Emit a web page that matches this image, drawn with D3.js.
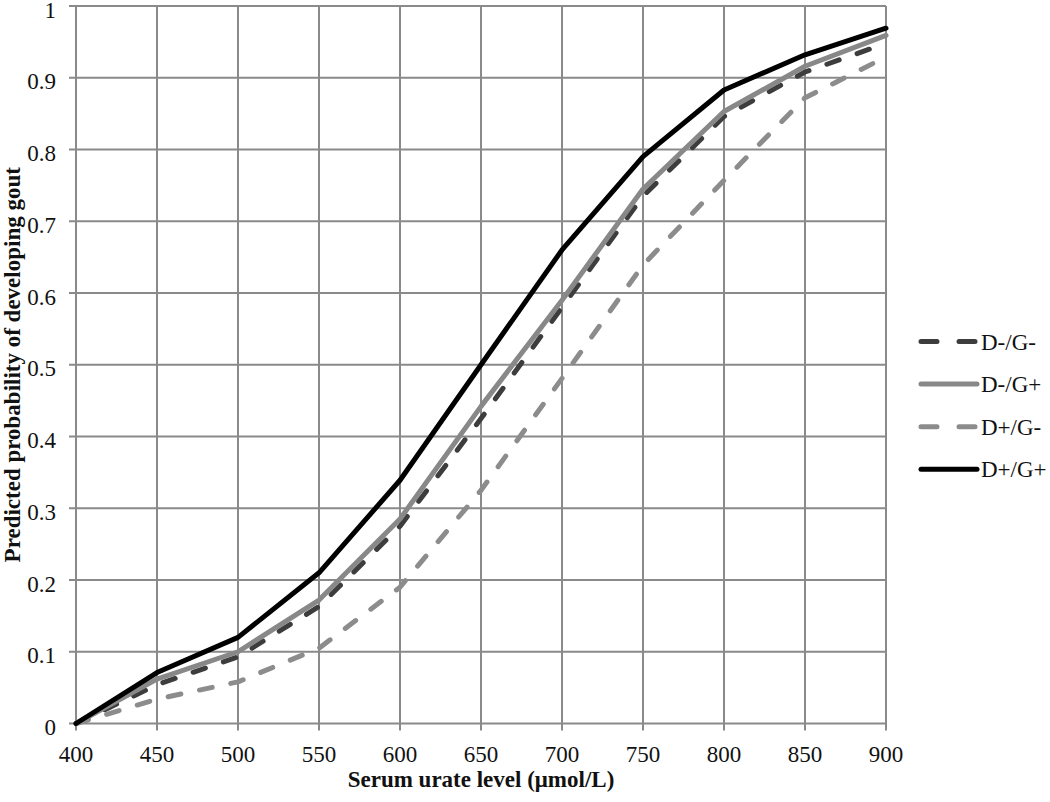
<!DOCTYPE html>
<html>
<head>
<meta charset="utf-8">
<script src="https://cdn.jsdelivr.net/npm/d3@7/dist/d3.min.js"></script>
<style>
    body { margin: 0; background: #fff; }
    svg { display: block; }
</style>
</head>
<body>
<svg id="chart" width="1050" height="802"></svg>
<script>
// serum urate level (umol/L)
const urate = [400, 450, 500, 550, 600, 650, 700, 750, 800, 850, 900];

// predicted probability per group
const dNegGNeg = [0, 0.054, 0.093, 0.163, 0.275, 0.425, 0.58, 0.735, 0.846, 0.908, 0.948];
const dNegGPos = [0, 0.062, 0.10, 0.172, 0.285, 0.442, 0.59, 0.745, 0.853, 0.916, 0.959];
const dPosGNeg = [0, 0.034, 0.058, 0.105, 0.19, 0.325, 0.481, 0.639, 0.757, 0.872, 0.929];
const dPosGPos = [0, 0.071, 0.12, 0.21, 0.339, 0.50, 0.66, 0.79, 0.883, 0.932, 0.969];

const seriesNames = ["D-/G-", "D-/G+", "D+/G-", "D+/G+"];
const xTicks = [400, 450, 500, 550, 600, 650, 700, 750, 800, 850, 900];
const yTicks = [0, 0.1, 0.2, 0.3, 0.4, 0.5, 0.6, 0.7, 0.8, 0.9, 1];

const series = [
    { name: seriesNames[0], values: dNegGNeg, color: "#3d3d3d", dash: "13,19" },
    { name: seriesNames[1], values: dNegGPos, color: "#888888", dash: null },
    { name: seriesNames[2], values: dPosGNeg, color: "#8c8c8c", dash: "13,19" },
    { name: seriesNames[3], values: dPosGPos, color: "#000000", dash: null }
];

const svg = d3.select("#chart");
const font = "'Liberation Serif', 'Times New Roman', serif";
const gridColor = "#8a8a8a";

const plotLeft = 76, plotTop = 6, plotRight = 886, plotBottom = 723.5;

const x = d3.scaleLinear().domain([400, 900]).range([plotLeft, plotRight]);
const y = d3.scaleLinear().domain([0, 1]).range([plotBottom, plotTop]);

// grid
const grid = svg.append("g")
    .attr("stroke", gridColor)
    .attr("stroke-width", 2);

grid.selectAll("line.v")
    .data(xTicks)
    .enter().append("line")
    .attr("class", "v")
    .attr("x1", d => x(d)).attr("x2", d => x(d))
    .attr("y1", plotTop).attr("y2", plotBottom + 7);

grid.selectAll("line.h")
    .data(yTicks)
    .enter().append("line")
    .attr("class", "h")
    .attr("x1", plotLeft - 7).attr("x2", plotRight)
    .attr("y1", d => y(d)).attr("y2", d => y(d));

// tick labels
svg.append("g")
    .attr("font-family", font)
    .attr("font-size", 23)
    .attr("fill", "#111")
    .selectAll("text")
    .data(yTicks)
    .enter().append("text")
    .attr("x", 56)
    .attr("y", d => y(d))
    .attr("dy", "0.5em")
    .attr("text-anchor", "end")
    .text(d => d3.format("~g")(d));

svg.append("g")
    .attr("font-family", font)
    .attr("font-size", 23)
    .attr("fill", "#111")
    .selectAll("text")
    .data(xTicks)
    .enter().append("text")
    .attr("x", d => x(d))
    .attr("y", 762)
    .attr("text-anchor", "middle")
    .text(d => d);

// axis titles
svg.append("text")
    .attr("x", (plotLeft + plotRight) / 2)
    .attr("y", 787)
    .attr("text-anchor", "middle")
    .attr("font-family", font)
    .attr("font-size", 23)
    .attr("font-weight", "bold")
    .attr("fill", "#111")
    .text("Serum urate level (μmol/L)");

svg.append("text")
    .attr("transform", `translate(20,${(plotTop + plotBottom) / 2}) rotate(-90)`)
    .attr("text-anchor", "middle")
    .attr("font-family", font)
    .attr("font-size", 23)
    .attr("font-weight", "bold")
    .attr("fill", "#111")
    .text("Predicted probability of developing gout");

// lines
const line = d3.line()
    .x((d, i) => x(urate[i]))
    .y(d => y(d));

svg.append("g")
    .attr("fill", "none")
    .selectAll("path")
    .data(series)
    .enter().append("path")
    .attr("d", d => line(d.values))
    .attr("stroke", d => d.color)
    .attr("stroke-width", 5)
    .attr("stroke-linecap", "round")
    .attr("stroke-linejoin", "round")
    .attr("stroke-dasharray", d => d.dash);

// legend
const legend = svg.append("g")
    .selectAll("g")
    .data(series)
    .enter().append("g")
    .attr("transform", (d, i) => `translate(0,${341.5 + i * 42.6})`);

legend.append("line")
    .attr("x1", 921).attr("x2", 977)
    .attr("stroke", d => d.color)
    .attr("stroke-width", 5)
    .attr("stroke-linecap", "round")
    .attr("stroke-dasharray", d => d.dash ? "16,22" : null);

legend.append("text")
    .attr("x", 981)
    .attr("dy", "0.35em")
    .attr("font-family", font)
    .attr("font-size", 23)
    .attr("fill", "#111")
    .text(d => d.name);
</script>
</body>
</html>
